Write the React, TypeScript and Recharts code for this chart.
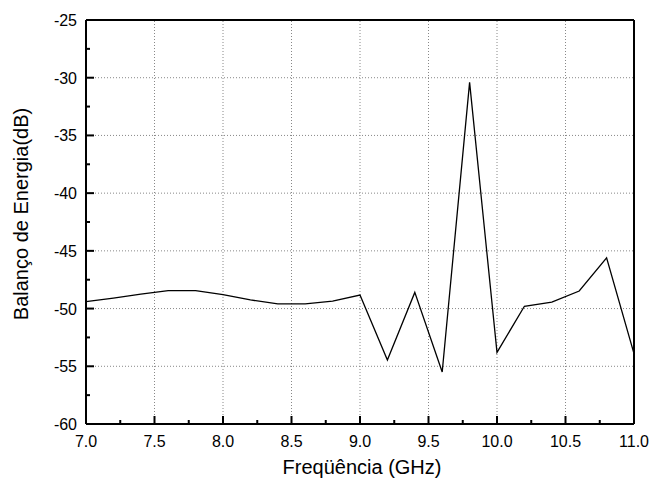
import React from "react";
import {
  LineChart,
  Line,
  XAxis,
  YAxis,
  ReferenceLine,
} from "recharts";

const frequency = [
  7.0, 7.2, 7.4, 7.6, 7.8, 8.0, 8.2, 8.4, 8.6, 8.8, 9.0, 9.2, 9.4, 9.6, 9.8,
  10.0, 10.2, 10.4, 10.6, 10.8, 11.0,
];
const balance = [
  -49.4, -49.1, -48.75, -48.45, -48.45, -48.8, -49.25, -49.6, -49.6, -49.35,
  -48.83, -54.45, -48.6, -55.5, -30.4, -53.8, -49.8, -49.45, -48.48, -45.6,
  -53.9,
];
const xMajor = [7.0, 7.5, 8.0, 8.5, 9.0, 9.5, 10.0, 10.5, 11.0];
const xTicks = [
  7.0, 7.25, 7.5, 7.75, 8.0, 8.25, 8.5, 8.75, 9.0, 9.25, 9.5, 9.75, 10.0,
  10.25, 10.5, 10.75, 11.0,
];
const yMajor = [-60, -55, -50, -45, -40, -35, -30, -25];
const yTicks = [
  -60, -57.5, -55, -52.5, -50, -47.5, -45, -42.5, -40, -37.5, -35, -32.5, -30,
  -27.5, -25,
];

const data = frequency.map((f, i) => ({ f, v: balance[i] }));

const FONT = "'Liberation Sans', Arial, sans-serif";

const isMajor = (list: number[], v: number) =>
  list.some((m) => Math.abs(m - v) < 1e-6);

const XTick = (props: any) => {
  const { x, y, payload } = props;
  const major = isMajor(xMajor, payload.value);
  return (
    <g>
      <line
        x1={x}
        x2={x}
        y1={y}
        y2={y - (major ? 8 : 4)}
        stroke="#000"
        strokeWidth={2}
      />
      {major && (
        <text
          x={x}
          y={y + 23}
          textAnchor="middle"
          fontSize={16}
          fontFamily={FONT}
          fill="#000"
        >
          {payload.value.toFixed(1)}
        </text>
      )}
    </g>
  );
};

const YTick = (props: any) => {
  const { x, y, payload } = props;
  const major = isMajor(yMajor, payload.value);
  return (
    <g>
      <line
        x1={x}
        x2={x + (major ? 8 : 4)}
        y1={y}
        y2={y}
        stroke="#000"
        strokeWidth={2}
      />
      {major && (
        <text
          x={x - 9}
          y={y + 6}
          textAnchor="end"
          fontSize={16}
          fontFamily={FONT}
          fill="#000"
        >
          {payload.value}
        </text>
      )}
    </g>
  );
};

const XLabel = (props: any) => {
  const { viewBox } = props;
  const cx = viewBox.x + viewBox.width / 2 + 2;
  return (
    <text
      x={cx}
      y={474}
      textAnchor="middle"
      fontSize={20}
      fontFamily={FONT}
      fill="#000"
    >
      Freqüência (GHz)
    </text>
  );
};

const YLabel = (props: any) => {
  const { viewBox } = props;
  const cx = 28;
  const cy = viewBox.y + viewBox.height / 2 - 8;
  return (
    <text
      x={cx}
      y={cy}
      transform={`rotate(-90 ${cx} ${cy})`}
      textAnchor="middle"
      fontSize={20}
      fontFamily={FONT}
      fill="#000"
    >
      Balanço de Energia(dB)
    </text>
  );
};

const frameLine = { stroke: "#000", strokeWidth: 2 };

export default function App() {
  return (
    <div style={{ width: 651, height: 482, background: "#fff" }}>
      <style>{`body{margin:0}`}</style>
      <LineChart
        width={651}
        height={482}
        data={data}
        margin={{ top: 18, right: 15, bottom: 0, left: 0 }}
      >
        <XAxis
          type="number"
          dataKey="f"
          domain={[7, 11]}
          ticks={xTicks}
          interval={0}
          height={58}
          tickSize={0}
          tickMargin={0}
          tickLine={false}
          tick={<XTick />}
          axisLine={frameLine}
          label={<XLabel />}
        />
        <XAxis
          xAxisId="top"
          orientation="top"
          type="number"
          dataKey="f"
          domain={[7, 11]}
          height={2}
          tick={false}
          tickLine={false}
          axisLine={frameLine}
        />
        <YAxis
          type="number"
          domain={[-60, -25]}
          ticks={yTicks}
          interval={0}
          width={86}
          tickSize={0}
          tickMargin={0}
          tickLine={false}
          tick={<YTick />}
          axisLine={frameLine}
          label={<YLabel />}
        />
        <YAxis
          yAxisId="right"
          orientation="right"
          type="number"
          domain={[-60, -25]}
          width={2}
          tick={false}
          tickLine={false}
          axisLine={frameLine}
        />
        {xMajor.slice(1, -1).map((v) => (
          <ReferenceLine
            key={`gx${v}`}
            x={v}
            stroke="#888"
            strokeDasharray="1 2"
          />
        ))}
        {yMajor.slice(1, -1).map((v) => (
          <ReferenceLine
            key={`gy${v}`}
            y={v}
            stroke="#888"
            strokeDasharray="1 2"
          />
        ))}
        <Line
          type="linear"
          dataKey="v"
          stroke="#000"
          strokeWidth={1.3}
          dot={false}
          isAnimationActive={false}
        />
      </LineChart>
    </div>
  );
}
